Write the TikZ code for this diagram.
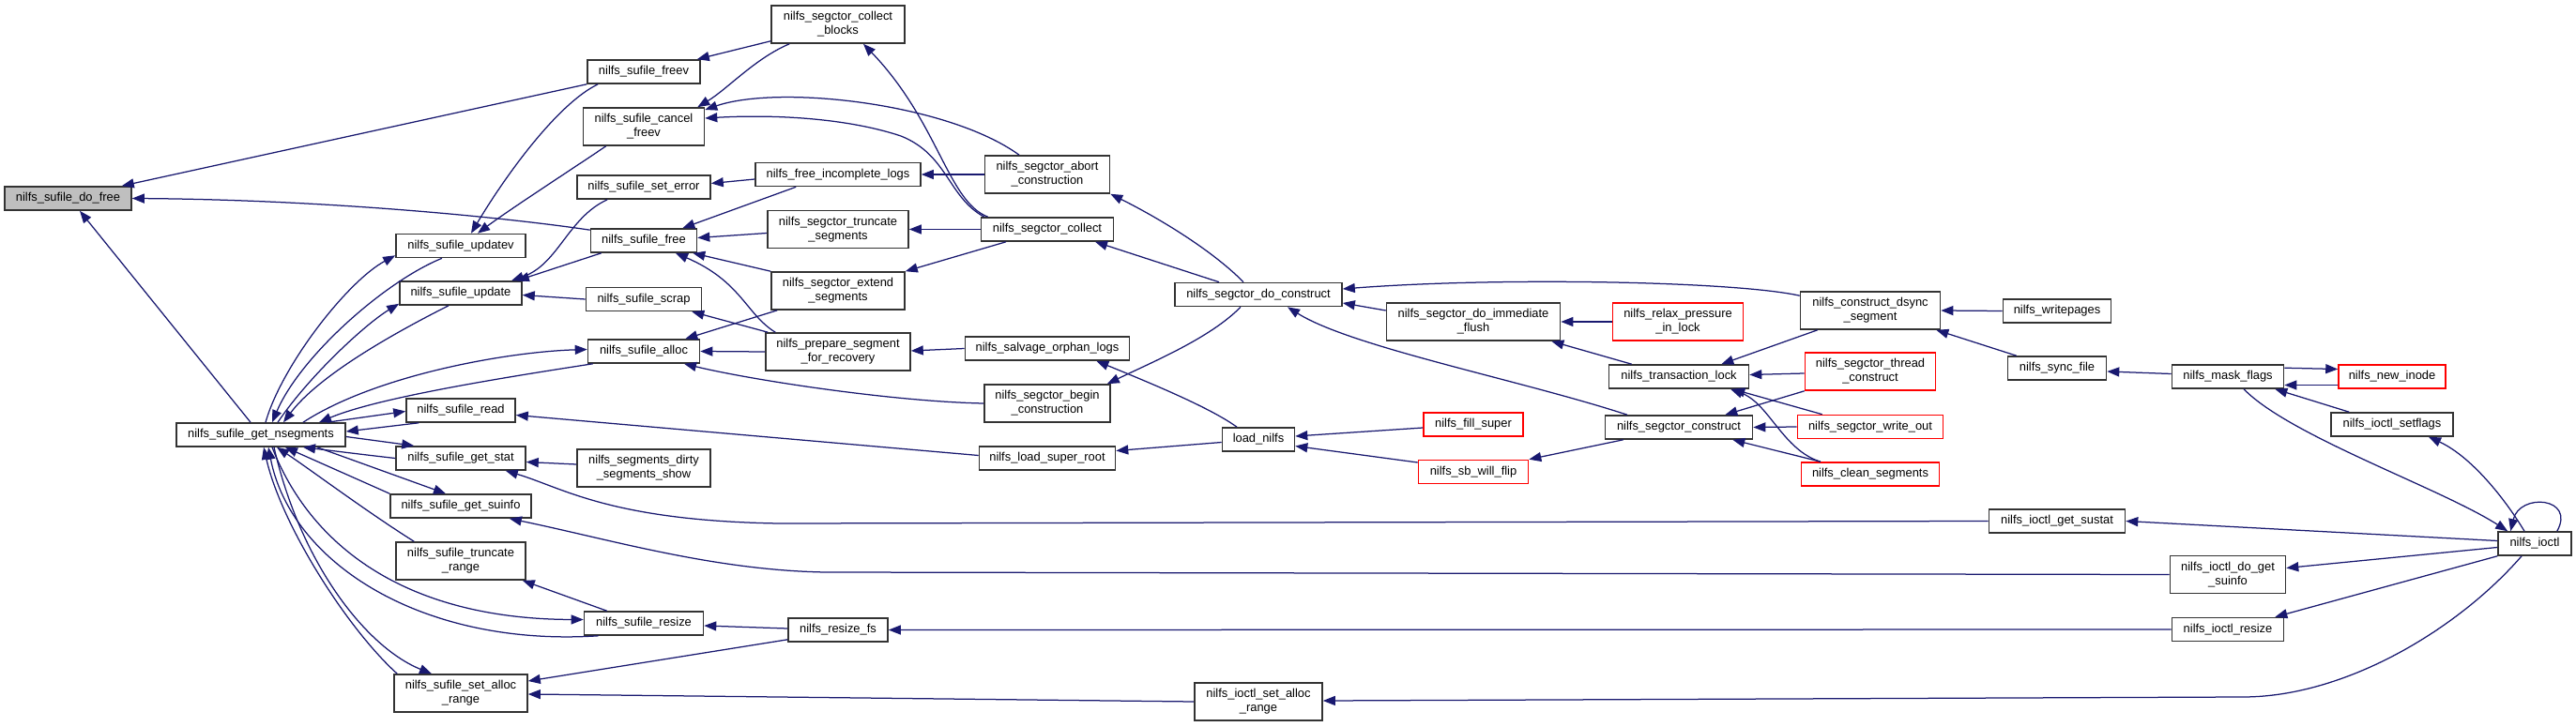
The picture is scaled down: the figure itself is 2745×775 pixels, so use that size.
\documentclass[tikz,border=0pt]{standalone}
\usepackage{fontspec}
\setmainfont{Liberation Sans}
\usetikzlibrary{arrows.meta,calc}
\definecolor{edgec}{HTML}{191970}
\definecolor{boxc}{HTML}{333333}
\begin{document}
\begin{tikzpicture}[x=1pt,y=-1pt,
  box/.style={draw=boxc, line width=1.6pt, fill=white, inner sep=0pt, minimum height=25pt, align=center, font=\fontsize{12.9}{15}\selectfont},
  rbox/.style={box, draw=red},
  tall/.style={minimum height=40pt},
  edge/.style={draw=edgec, line width=1.25pt, -{Triangle[length=13pt,width=10pt]}}]
\fill[white] (0,0) rectangle (2745,775);
\useasboundingbox (0,0) rectangle (2745,775);
% nodes
\node[box, minimum width=135, fill=gray!50] (dofree) at (72.5,211.5) {nilfs\_sufile\_do\_free};
\node[box, minimum width=180] (getnseg) at (278,463.5) {nilfs\_sufile\_get\_nsegments};
\node[box, minimum width=138] (updatev) at (491,262) {nilfs\_sufile\_updatev};
\node[box, minimum width=130] (update) at (491,312.5) {nilfs\_sufile\_update};
\node[box, minimum width=116] (read) at (491,437.5) {nilfs\_sufile\_read};
\node[box, minimum width=138] (getstat) at (491,488.5) {nilfs\_sufile\_get\_stat};
\node[box, minimum width=150] (getsuinfo) at (491,539.5) {nilfs\_sufile\_get\_suinfo};
\node[box, tall, minimum width=138] (truncrange) at (491,598) {nilfs\_sufile\_truncate\\\_range};
\node[box, tall, minimum width=142] (setallocrange) at (491,739) {nilfs\_sufile\_set\_alloc\\\_range};
\node[box, tall, minimum width=142] (collectblocks) at (893,26) {nilfs\_segctor\_collect\\\_blocks};
\node[box, minimum width=120] (freev) at (686,76.5) {nilfs\_sufile\_freev};
\node[box, tall, minimum width=129] (cancelfreev) at (686,135) {nilfs\_sufile\_cancel\\\_freev};
\node[box, minimum width=176] (freeincomplete) at (893,186) {nilfs\_free\_incomplete\_logs};
\node[box, minimum width=142] (seterror) at (686,199.5) {nilfs\_sufile\_set\_error};
\node[box, tall, minimum width=133] (abortcons) at (1116,186) {nilfs\_segctor\_abort\\\_construction};
\node[box, tall, minimum width=150] (truncseg) at (893,244.5) {nilfs\_segctor\_truncate\\\_segments};
\node[box, minimum width=113] (sufilefree) at (686,256.5) {nilfs\_sufile\_free};
\node[box, minimum width=141] (segcollect) at (1116,244.5) {nilfs\_segctor\_collect};
\node[box, tall, minimum width=142] (extendseg) at (893,310) {nilfs\_segctor\_extend\\\_segments};
\node[box, minimum width=123] (scrap) at (686,319) {nilfs\_sufile\_scrap};
\node[box, minimum width=119] (alloc) at (686,374.5) {nilfs\_sufile\_alloc};
\node[box, tall, minimum width=154] (prepare) at (893,375) {nilfs\_prepare\_segment\\\_for\_recovery};
\node[box, minimum width=175] (salvage) at (1116,371.5) {nilfs\_salvage\_orphan\_logs};
\node[box, tall, minimum width=134] (beginconst) at (1116,430) {nilfs\_segctor\_begin\\\_construction};
\node[box, minimum width=145] (loadsuperroot) at (1116,488.5) {nilfs\_load\_super\_root};
\node[box, tall, minimum width=142] (dirtyshow) at (686,499) {nilfs\_segments\_dirty\\\_segments\_show};
\node[box, minimum width=127] (sufileresize) at (686,664.5) {nilfs\_sufile\_resize};
\node[box, minimum width=106] (resizefs) at (893,671.5) {nilfs\_resize\_fs};
\node[box, minimum width=178] (doconstruct) at (1341,314) {nilfs\_segctor\_do\_construct};
\node[box, tall, minimum width=185] (immflush) at (1570,343) {nilfs\_segctor\_do\_immediate\\\_flush};
\node[rbox, tall, minimum width=139] (relax) at (1788,343) {nilfs\_relax\_pressure\\\_in\_lock};
\node[box, tall, minimum width=149] (dsync) at (1993,331) {nilfs\_construct\_dsync\\\_segment};
\node[box, minimum width=149] (translock) at (1789,401.5) {nilfs\_transaction\_lock};
\node[rbox, tall, minimum width=139] (threadcons) at (1993,396) {nilfs\_segctor\_thread\\\_construct};
\node[box, minimum width=157] (segconstruct) at (1789,455.5) {nilfs\_segctor\_construct};
\node[rbox, minimum width=155] (writeout) at (1993,455) {nilfs\_segctor\_write\_out};
\node[rbox, minimum width=147] (cleanseg) at (1993,505.5) {nilfs\_clean\_segments};
\node[box, minimum width=77] (loadnilfs) at (1341,468.5) {load\_nilfs};
\node[rbox, minimum width=106] (fillsuper) at (1570,452.5) {nilfs\_fill\_super};
\node[rbox, minimum width=117] (sbwillflip) at (1570,503) {nilfs\_sb\_will\_flip};
\node[box, tall, minimum width=136] (ioctlsetalloc) at (1341,748) {nilfs\_ioctl\_set\_alloc\\\_range};
\node[box, minimum width=115] (writepages) at (2192,331.5) {nilfs\_writepages};
\node[box, minimum width=105] (syncfile) at (2192,392.5) {nilfs\_sync\_file};
\node[box, minimum width=119] (maskflags) at (2374,401.5) {nilfs\_mask\_flags};
\node[rbox, minimum width=114] (newinode) at (2549,401.5) {nilfs\_new\_inode};
\node[box, minimum width=130] (setflags) at (2549,452.5) {nilfs\_ioctl\_setflags};
\node[box, minimum width=145] (getsustat) at (2192,555.5) {nilfs\_ioctl\_get\_sustat};
\node[box, minimum width=78] (ioctl) at (2701,579.5) {nilfs\_ioctl};
\node[box, tall, minimum width=123] (dogetsuinfo) at (2374,612.5) {nilfs\_ioctl\_do\_get\\\_suinfo};
\node[box, minimum width=119] (ioctlresize) at (2374,671) {nilfs\_ioctl\_resize};
% edges into do_free
\draw[edge] (freev.south west) -- ($(dofree.north east)+(-11,0)$);
\draw[edge] ($(sufilefree.north west)+(0,2)$) .. controls (540,232) and (350,213) .. (dofree.east);
\draw[edge] ($(getnseg.north)+(-11,0)$) -- ($(dofree.south)+(12.5,0)$);
% column 2 links
\draw[edge] ($(freev.south west)+(12,0)$) .. controls (595,110) and (540,185) .. ($(updatev.north)+(11,0)$);
\draw[edge] ($(cancelfreev.south west)+(25,0)$) .. controls (610,180) and (545,222) .. ($(updatev.north)+(18,0)$);
\draw[edge] ($(seterror.south west)+(33,0)$) .. controls (605,232) and (595,282) .. ($(update.north)+(54,0)$);
\draw[edge] ($(sufilefree.south west)+(12,0)$) -- ($(update.north east)+(-6,0)$);
\draw[edge] (scrap.west) -- ($(update.east)+(0,2)$);
% get_nsegments <-> column 2
\draw[edge] ($(getnseg.north)+(5,0)$) .. controls (300,390) and (370,300) .. ($(updatev.south west)+(0,-3)$);
\draw[edge] ($(updatev.south)+(-20,0)$) .. controls (410,300) and (320,380) .. ($(getnseg.north)+(12,0)$);
\draw[edge] ($(getnseg.north)+(18,0)$) .. controls (330,400) and (390,345) .. ($(update.south west)+(0,-2)$);
\draw[edge] ($(update.south)+(-13,0)$) .. controls (420,355) and (340,400) .. ($(getnseg.north)+(24,0)$);
\draw[edge] ($(getnseg.north)+(45,0)$) .. controls (400,400) and (540,375) .. ($(alloc.west)+(0,-2)$);
\draw[edge] ($(alloc.south west)+(6,0)$) .. controls (520,405) and (400,425) .. ($(getnseg.north)+(62,0)$);
\draw[edge] ($(getnseg.north east)+(-20,0)$) -- ($(read.west)+(0,1)$);
\draw[edge] ($(read.south west)+(14,0)$) -- ($(getnseg.east)+(0,-3.5)$);
\draw[edge] ($(getnseg.east)+(0,2)$) -- ($(getstat.north west)+(20,0)$);
\draw[edge] (getstat.west) .. controls (390,485) and (350,480) .. ($(getnseg.south)+(45,0)$);
\draw[edge] ($(getnseg.south)+(60,0)$) -- ($(getsuinfo.north)+(-16,0)$);
\draw[edge] (getsuinfo.north west) -- ($(getnseg.south)+(26,0)$);
\draw[edge] ($(truncrange.north west)+(20,0)$) .. controls (390,545) and (330,500) .. ($(getnseg.south)+(17,0)$);
\draw[edge] ($(getnseg.south)+(12,0)$) .. controls (330,580) and (430,660) .. ($(sufileresize.west)+(0,-4)$);
\draw[edge] ($(sufileresize.south west)+(16,0)$) .. controls (450,690) and (310,600) .. ($(getnseg.south)+(8,0)$);
\draw[edge] ($(getnseg.south)+(14,0)$) .. controls (320,600) and (390,690) .. ($(setallocrange.north)+(-31,0)$);
\draw[edge] ($(setallocrange.north west)+(4,0)$) .. controls (370,670) and (300,560) .. ($(getnseg.south)+(3,0)$);
\draw[edge] ($(sufileresize.north west)+(25,0)$) -- ($(truncrange.south east)+(-4,0)$);
% column 3 -> column 2
\draw[edge] ($(collectblocks.south west)+(0,-3)$) -- ($(freev.north east)+(-4,0)$);
\draw[edge] ($(collectblocks.south west)+(20,0)$) .. controls (805,62) and (775,95) .. ($(cancelfreev.north east)+(-8,0)$);
\draw[edge] ($(freeincomplete.west)+(0,5)$) -- ($(seterror.east)+(0,-4)$);
\draw[edge] ($(freeincomplete.south west)+(44,0)$) -- ($(sufilefree.north east)+(-16,0)$);
\draw[edge] ($(truncseg.west)+(0,4)$) -- ($(sufilefree.east)+(0,-3)$);
\draw[edge] (extendseg.north west) -- ($(sufilefree.south east)+(-5,0)$);
\draw[edge] ($(prepare.north west)+(11,0)$) .. controls (795,335) and (790,300) .. ($(sufilefree.south)+(34,0)$);
\draw[edge] ($(prepare.north west)+(3,0)$) -- ($(scrap.south east)+(-11,0)$);
\draw[edge] ($(extendseg.south west)+(7,0)$) -- ($(alloc.north east)+(-16,0)$);
\draw[edge] (prepare.west) -- (alloc.east);
% column 4 -> column 3
\draw[edge] ($(segcollect.north west)+(8,0)$) .. controls (1010,215) and (1000,130) .. ($(collectblocks.south)+(27,0)$);
\draw[edge] ($(abortcons.north)+(-30,0)$) .. controls (1010,110) and (830,90) .. ($(cancelfreev.east)+(0,-18)$);
\draw[edge] ($(segcollect.north west)+(4,0)$) .. controls (1010,210) and (1010,165) .. (960,145) .. controls (900,125) and (820,122) .. ($(cancelfreev.east)+(0,-9)$);
\draw[edge] (abortcons.west) -- (freeincomplete.east);
\draw[edge] (segcollect.west) -- (truncseg.east);
\draw[edge] ($(segcollect.south)+(-44,0)$) -- (extendseg.north east);
\draw[edge] (salvage.west) -- ($(prepare.east)+(0,-1)$);
\draw[edge] (beginconst.west) .. controls (950,428) and (800,405) .. ($(alloc.south)+(43,0)$);
\draw[edge] ($(loadsuperroot.west)+(0,-3)$) -- ($(read.east)+(0,5)$);
\draw[edge] ($(dirtyshow.west)+(0,-4)$) -- ($(getstat.east)+(0,4)$);
% column 5
\draw[edge] ($(loadnilfs.north)+(-23,0)$) .. controls (1290,435) and (1230,410) .. ($(salvage.south east)+(-36,0)$);
\draw[edge] ($(doconstruct.north)+(-42,0)$) -- ($(segcollect.south)+(51,0)$);
\draw[edge] ($(doconstruct.north)+(-16,0)$) .. controls (1290,265) and (1230,230) .. (abortcons.south east);
\draw[edge] ($(doconstruct.south)+(-19,0)$) .. controls (1290,360) and (1230,385) .. ($(beginconst.north east)+(-4,0)$);
\draw[edge] ($(loadnilfs.west)+(0,3)$) -- ($(loadsuperroot.east)+(0,-8)$);
% column 6+
\draw[edge] ($(dsync.north west)+(0,5)$) .. controls (1850,300) and (1600,295) .. ($(doconstruct.east)+(0,-6)$);
\draw[edge] ($(immflush.west)+(0,-12)$) -- ($(doconstruct.east)+(0,9)$);
\draw[edge] ($(segconstruct.north)+(-55,0)$) .. controls (1620,405) and (1440,370) .. ($(doconstruct.south)+(31,0)$);
\draw[edge] (relax.west) -- (immflush.east);
\draw[edge] ($(translock.north west)+(25,0)$) -- ($(immflush.south east)+(-10,0)$);
\draw[edge] ($(dsync.south west)+(19,0)$) -- ($(translock.north east)+(-30,0)$);
\draw[edge] ($(threadcons.west)+(0,2)$) -- ($(translock.east)+(0,-2)$);
\draw[edge] ($(writeout.north west)+(27,0)$) -- ($(translock.south east)+(-18,0)$);
\draw[edge] ($(cleanseg.north)+(-53,0)$) .. controls (1900,480) and (1885,430) .. ($(translock.south)+(55,0)$);
\draw[edge] (threadcons.south west) -- ($(segconstruct.north east)+(-30,0)$);
\draw[edge] (writeout.west) -- (segconstruct.east);
\draw[edge] ($(cleanseg.north)+(-53,0)$) -- ($(segconstruct.south east)+(-22,0)$);
\draw[edge] ($(segconstruct.south west)+(20,0)$) -- (sbwillflip.north east);
\draw[edge] ($(fillsuper.west)+(0,3.5)$) -- ($(loadnilfs.east)+(0,-3.5)$);
\draw[edge] ($(sbwillflip.west)+(0,-10)$) -- ($(loadnilfs.east)+(0,7)$);
\draw[edge] (writepages.west) -- (dsync.east);
\draw[edge] ($(syncfile.north west)+(10,0)$) -- ($(dsync.south east)+(-5,0)$);
\draw[edge] ($(maskflags.west)+(0,-3)$) -- ($(syncfile.east)+(0,3.5)$);
\draw[edge] ($(maskflags.north east)+(0,4)$) -- ($(newinode.west)+(0,-8)$);
\draw[edge] ($(newinode.west)+(0,9)$) -- ($(maskflags.east)+(0,9)$);
\draw[edge] ($(setflags.north west)+(20,0)$) -- ($(maskflags.south east)+(-10,0)$);
\draw[edge] ($(maskflags.south)+(17,0)$) .. controls (2440,465) and (2600,520) .. ($(ioctl.north west)+(11,0)$);
\draw[edge] ($(ioctl.north)+(-11,0)$) .. controls (2665,525) and (2630,485) .. ($(setflags.south)+(39,0)$);
\draw[edge] ($(ioctl.north east)+(-16,0)$) .. controls (2745,530) and (2685,525) .. ($(ioctl.north west)+(14,0)$);
\draw[edge] ($(ioctl.west)+(0,-3)$) -- (getsustat.east);
\draw[edge] ($(ioctl.west)+(0,4)$) -- ($(dogetsuinfo.east)+(0,-7)$);
\draw[edge] (ioctl.south west) -- ($(ioctlresize.north east)+(-10,0)$);
\draw[edge] ($(ioctl.south)+(-14,0)$) .. controls (2620,670) and (2500,743) .. (2390,743) -- ($(ioctlsetalloc.east)+(0,-1)$);
\draw[edge] (ioctlsetalloc.west) -- ($(setallocrange.east)+(0,1)$);
\draw[edge] ($(resizefs.south west)+(0,-3)$) -- ($(setallocrange.east)+(0,-13)$);
\draw[edge] ($(resizefs.west)+(0,-1.5)$) -- ($(sufileresize.east)+(0,2.5)$);
\draw[edge] (ioctlresize.west) -- (resizefs.east);
\draw[edge] (getsustat.west) -- (830,558) .. controls (650,555) and (600,520) .. ($(getstat.south east)+(-22,0)$);
\draw[edge] (dogetsuinfo.west) -- (880,610) .. controls (760,608) and (650,575) .. ($(getsuinfo.south east)+(-24,0)$);
\end{tikzpicture}
\end{document}
